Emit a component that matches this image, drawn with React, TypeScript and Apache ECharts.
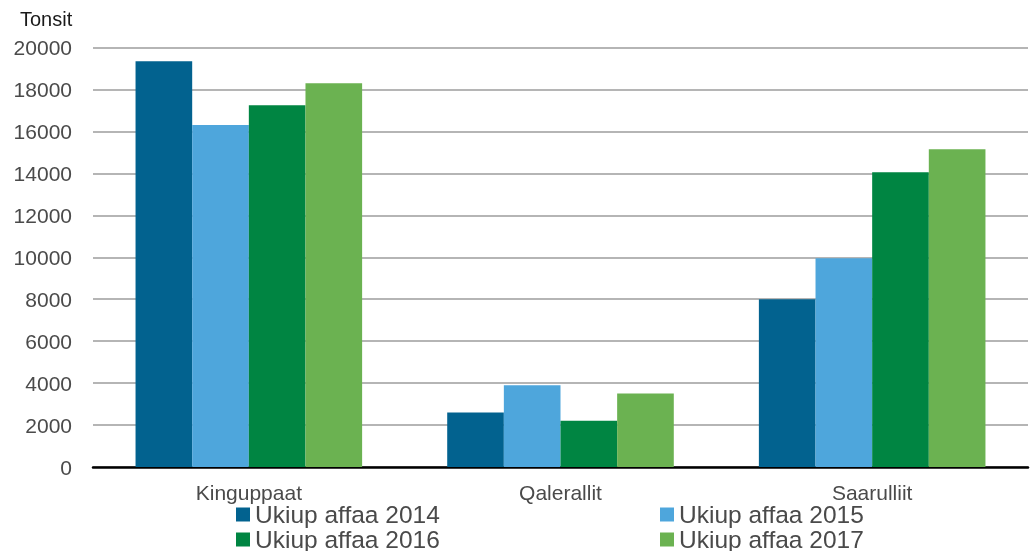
import React, { useEffect, useRef } from "react";
import * as echarts from "echarts";

const categories = ["Kinguppaat", "Qalerallit", "Saarulliit"];
const seriesNames = ["Ukiup affaa 2014", "Ukiup affaa 2015", "Ukiup affaa 2016", "Ukiup affaa 2017"];
const values2014 = [19350, 2600, 8000];
const values2015 = [16300, 3900, 9950];
const values2016 = [17250, 2200, 14050];
const values2017 = [18300, 3500, 15150];
const colors = ["#02628F", "#4EA6DC", "#008542", "#6BB251"];
const yTicks = { min: 0, max: 20000, interval: 2000 };
const unitLabel = "Tonsit";

export default function App() {
  const ref = useRef<HTMLDivElement>(null);
  useEffect(() => {
    if (!ref.current) return;
    const chart = echarts.init(ref.current, null, { renderer: "svg" });
    const allValues = [values2014, values2015, values2016, values2017];
    const font = "'Liberation Sans', Arial, sans-serif";
    const legendBase = {
      orient: "vertical",
      top: 502,
      height: 120,
      padding: 0,
      itemGap: 0,
      itemWidth: 14,
      itemHeight: 14,
      icon: "rect",
      textStyle: { fontFamily: font, fontSize: 24.5, color: "#4a4a4a", lineHeight: 25 },
    };
    chart.setOption({
      animation: false,
      textStyle: { fontFamily: font },
      title: {
        text: unitLabel,
        left: 20,
        top: 9,
        padding: 0,
        textStyle: { fontFamily: font, fontSize: 20, fontWeight: "normal", color: "#1a1a1a" },
      },
      legend: [
        { ...legendBase, data: [seriesNames[0], seriesNames[2]], left: 236 },
        { ...legendBase, data: [seriesNames[1], seriesNames[3]], left: 660 },
      ],
      grid: { left: 93, right: 6, top: 47.5, bottom: 84, containLabel: false },
      xAxis: {
        type: "category",
        data: categories,
        axisLine: { lineStyle: { color: "#000", width: 2.5 } },
        axisTick: { show: false },
        axisLabel: { fontFamily: font, fontSize: 21, color: "#4a4a4a", margin: 15 },
      },
      yAxis: {
        type: "value",
        min: yTicks.min,
        max: yTicks.max,
        interval: yTicks.interval,
        axisLine: { show: false },
        axisTick: { show: false },
        axisLabel: {
          fontFamily: font,
          fontSize: 21,
          color: "#4a4a4a",
          margin: 21,
          formatter: (v: number) => String(v),
        },
        splitLine: { lineStyle: { color: "#9c9c9c", width: 1.6 } },
      },
      series: seriesNames.map((name, i) => ({
        name,
        type: "bar",
        data: allValues[i],
        barGap: "0%",
        barCategoryGap: "27.3%",
        itemStyle: { color: colors[i] },
      })),
    });
    return () => chart.dispose();
  }, []);
  return <div ref={ref} style={{ position: "fixed", left: 0, top: 0, width: 1034, height: 551 }} />;
}
